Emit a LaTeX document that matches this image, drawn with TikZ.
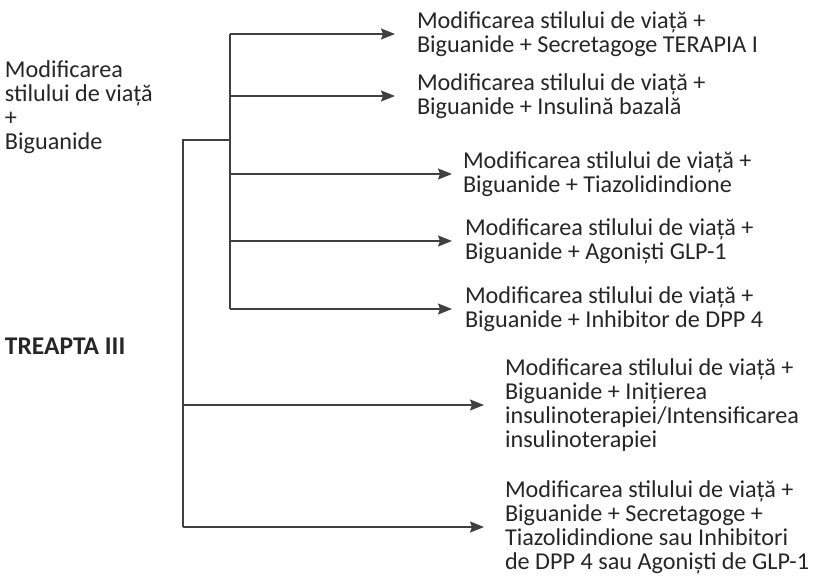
\documentclass[tikz,border=0pt]{standalone}
\usepackage{fontspec}
\setmainfont{Carlito}
\usetikzlibrary{arrows.meta}

\begin{document}
\begin{tikzpicture}[x=1pt,y=-1pt,
	every node/.style={font=\fontsize{24.2}{24}\selectfont,text=black!85,outer sep=0pt},
	ln/.style={draw=black!75,line width=1.6pt},
	arr/.style={ln,-{Stealth[length=14pt,width=11pt,inset=2pt]}},
	res/.style={anchor=west,align=left,inner ysep=0pt,inner xsep=#1}]
	\useasboundingbox (0,0) rectangle (821,579);
	\node[anchor=north west,align=left,inner sep=0pt] (start) at (5,61) {Modificarea\\stilului de viață\\+\\Biguanide};
	\node[anchor=base west,inner sep=0pt,font=\fontsize{25.5}{24}\selectfont\bfseries] (treapta) at (5,354) {TREAPTA III};

	\node[res=22pt] (r1) at (395,34) {Modificarea stilului de viață +\\Biguanide + Secretagoge TERAPIA I};
	\node[res=22pt] (r2) at (395,96) {Modificarea stilului de viață +\\Biguanide + Insulină bazală};
	\node[res=11pt] (r3) at (452,174) {Modificarea stilului de viață +\\Biguanide + Tiazolidindione};
	\node[res=13pt] (r4) at (452,241) {Modificarea stilului de viață +\\Biguanide + Agoniști GLP-1};
	\node[res=13pt] (r5) at (452,309) {Modificarea stilului de viață +\\Biguanide + Inhibitor de DPP 4};
	\node[res=21pt] (r6) at (484,405) {Modificarea stilului de viață +\\Biguanide + Inițierea\\insulinoterapiei/Intensificarea\\insulinoterapiei};
	\node[res=21pt] (r7) at (484,527) {Modificarea stilului de viață +\\Biguanide + Secretagoge +\\Tiazolidindione sau Inhibitori\\de DPP 4 sau Agoniști de GLP-1};

	\coordinate (i0) at (230,140);
	\coordinate (i1) at (230,34);
	\coordinate (i2) at (230,96);
	\coordinate (i3) at (230,174);
	\coordinate (i4) at (230,241);
	\coordinate (i5) at (230,309);
	\coordinate (o1) at (183,140);
	\coordinate (o6) at (183,405);
	\coordinate (o7) at (183,527);

	\draw[ln] (o7) -- (o1) -- (i0);
	\draw[ln] (i1) -- (i5);
	\foreach \i in {1,...,5}
		\draw[arr] (i\i) -- (i\i -| r\i.west);
	\foreach \i in {6,7}
		\draw[arr] (o\i) -- (o\i -| r\i.west);
\end{tikzpicture}
\end{document}
